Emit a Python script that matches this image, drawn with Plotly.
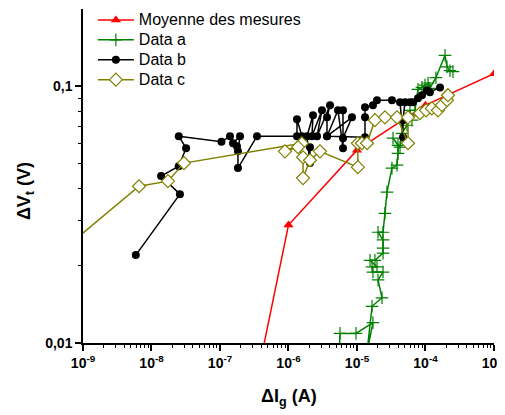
import plotly.graph_objects as go

# ---- data ----
moy_x = [1e-7, 1e-6, 1e-5, 1e-4, 1e-3]
moy_y = [0.00145, 0.0288, 0.0564, 0.0844, 0.112]

a_x = [5.5e-6, 5.65e-6, 9.67e-6, 1.71e-5, 1.4e-5, 1.66e-5, 2.32e-5, 2.03e-5, 2.4e-5, 1.71e-5,
       1.66e-5, 1.96e-5, 1.55e-5, 1.83e-5, 2.4e-5, 2.4e-5, 2.4e-5, 2.03e-5, 2.4e-5, 2.56e-5,
       2.74e-5, 3.24e-5, 3.84e-5, 3.97e-5, 3.97e-5, 3.36e-5, 4.25e-5, 4.54e-5, 5.37e-5, 5.94e-5,
       6.35e-5, 7.03e-5, 7.78e-5, 8.89e-5, 9.84e-5, 1.09e-4, 1.16e-4, 1.42e-4, 1.93e-4, 2.06e-4,
       2.28e-4, 2.52e-4]
a_y = [0.009, 0.0109, 0.0109, 0.012, 0.0092, 0.0139, 0.015, 0.0176, 0.0189, 0.0189,
       0.0198, 0.0198, 0.021, 0.021, 0.0224, 0.0234, 0.0252, 0.027, 0.027, 0.032,
       0.0387, 0.048, 0.0493, 0.0548, 0.0589, 0.0628, 0.0579, 0.0656, 0.0705, 0.0806,
       0.0738, 0.0806, 0.0973, 0.099, 0.101, 0.103, 0.0982, 0.108, 0.132, 0.119,
       0.115, 0.114]

b_x = [5.9e-9, 2.6e-8, 1.38e-8, 2.5e-8, 3.2e-8, 2.5e-8, 1.05e-7, 1.4e-7, 1.77e-7, 1.55e-7,
       1.96e-7, 1.83e-7, 1.83e-7, 3.47e-7, 1.33e-6, 1.33e-6, 1.57e-6, 2.06e-6, 2.06e-6, 1.86e-6,
       2.28e-6, 2.2e-6, 3.08e-6, 2.61e-6, 4.04e-6, 3.65e-6, 3.65e-6, 5.28e-6, 6.25e-6, 6.25e-6,
       6.25e-6, 8.45e-6, 3.65e-6, 1.31e-5, 1.31e-5, 1.31e-5, 1.71e-5, 1.96e-5, 3.24e-5, 4.25e-5,
       4.7e-5, 4.7e-5, 5.02e-5, 5.94e-5, 6.57e-5, 7.78e-5, 8.89e-5, 1.05e-4, 1.16e-4, 1.63e-4]
b_y = [0.022, 0.038, 0.0447, 0.0488, 0.0574, 0.0639, 0.0608, 0.0639, 0.0584, 0.060,
       0.0639, 0.0558, 0.048, 0.0639, 0.0639, 0.0744, 0.0639, 0.0579, 0.0502, 0.0639,
       0.0771, 0.0639, 0.0806, 0.0639, 0.0844, 0.0757, 0.0639, 0.0806, 0.0574, 0.0806,
       0.0628, 0.0757, 0.0639, 0.0633, 0.0757, 0.0828, 0.0844, 0.0882, 0.0882, 0.0867,
       0.0633, 0.0738, 0.0867, 0.0867, 0.0867, 0.0898, 0.0923, 0.0965, 0.0948, 0.099]

c_x = [3e-10, 6.57e-9, 1.74e-8, 2.98e-8, 1.57e-6, 8.89e-7, 1.38e-6, 1.63e-6, 1.63e-6, 2.06e-6,
       2.88e-6, 1.03e-5, 1.03e-5, 1.18e-5, 1.4e-5, 1.83e-5, 2.56e-5, 3.84e-5, 5.56e-5, 5.56e-5,
       8.31e-5, 1.02e-4, 1.24e-4, 1.52e-4, 1.74e-4, 2.06e-4, 2.13e-4]
c_y = [0.0205, 0.0408, 0.0427, 0.0502, 0.060, 0.0558, 0.0579, 0.0529, 0.0439, 0.0515,
       0.0558, 0.0484, 0.060, 0.060, 0.060, 0.0738, 0.0757, 0.0757, 0.060, 0.0757,
       0.0785, 0.0806, 0.082, 0.0806, 0.0844, 0.0882, 0.0923]

series_names = ["Moyenne des mesures", "Data a", "Data b", "Data c"]

x_tickvals = [1e-9, 1e-8, 1e-7, 1e-6, 1e-5, 1e-4, 1e-3]
x_ticktext = ["<b>10<sup>-9</sup></b>", "<b>10<sup>-8</sup></b>", "<b>10<sup>-7</sup></b>",
              "<b>10<sup>-6</sup></b>", "<b>10<sup>-5</sup></b>", "<b>10<sup>-4</sup></b>",
              "<b>10<sup>-3</sup></b>"]
y_tickvals = [0.01, 0.1]
y_ticktext = ["<b>0,01</b>", "<b>0,1</b>"]

FONT = "Arial, 'Liberation Sans', sans-serif"


def legend_label(s):
    return "<span style='font-size:16px'>" + s + "</span>"


fig = go.Figure()
fig.add_trace(go.Scatter(x=moy_x, y=moy_y, mode="lines+markers", name=legend_label(series_names[0]),
                         line=dict(color="#FF0000", width=1.5),
                         marker=dict(symbol="triangle-up", size=9, color="#FF0000")))
fig.add_trace(go.Scatter(x=a_x, y=a_y, mode="lines+markers", name=legend_label(series_names[1]),
                         line=dict(color="#008000", width=1.5),
                         marker=dict(symbol="cross-thin-open", size=9,
                                     line=dict(color="#008000", width=1.2))))
fig.add_trace(go.Scatter(x=b_x, y=b_y, mode="lines+markers", name=legend_label(series_names[2]),
                         line=dict(color="#000000", width=1.5),
                         marker=dict(symbol="circle", size=8, color="#000000")))
fig.add_trace(go.Scatter(x=c_x, y=c_y, mode="lines+markers", name=legend_label(series_names[3]),
                         line=dict(color="#808000", width=1.5),
                         marker=dict(symbol="diamond", size=10, color="white",
                                     line=dict(color="#808000", width=1.2))))

minor_x = [m * 10.0 ** e for e in range(-9, -3) for m in range(2, 10)]
minor_y = [m * 10.0 ** e for e in (-2, -1) for m in range(2, 10) if m * 10.0 ** e < 0.2]

# the page body has an 8px margin, so the figure is made 8px smaller and shifted
fig.update_layout(
    width=497, height=407,
    margin=dict(l=75, r=11, t=1, b=72, autoexpand=False),
    paper_bgcolor="white", plot_bgcolor="white",
    font=dict(family=FONT, color="black"),
    showlegend=True,
    legend=dict(x=0.024, y=1.012, xanchor="left", yanchor="top",
                bgcolor="rgba(0,0,0,0)", font=dict(size=13, family=FONT),
                itemwidth=36, tracegroupgap=0),
    xaxis=dict(type="log", range=[-9, -2.9995], showgrid=False, zeroline=False, automargin=False,
               showline=True, linecolor="black", linewidth=1.5,
               ticks="outside", ticklen=6, tickwidth=1.5, tickcolor="black",
               tickmode="array", tickvals=x_tickvals, ticktext=x_ticktext,
               tickfont=dict(size=14, family=FONT), ticklabeloverflow="allow",
               minor=dict(tickmode="array", tickvals=minor_x, ticks="outside",
                          ticklen=3, tickwidth=1.2, tickcolor="black", showgrid=False)),
    yaxis=dict(type="log", range=[-2, -0.699], showgrid=False, zeroline=False, automargin=False,
               showline=True, linecolor="black", linewidth=1.5,
               ticks="outside", ticklen=6, tickwidth=1.5, tickcolor="black",
               tickmode="array", tickvals=y_tickvals, ticktext=y_ticktext,
               tickfont=dict(size=14, family=FONT), ticklabeloverflow="allow",
               minor=dict(tickmode="array", tickvals=minor_y, ticks="outside",
                          ticklen=3, tickwidth=1.2, tickcolor="black", showgrid=False)),
    annotations=[
        dict(text="<b>ΔI<sub>g</sub> (A)</b>", xref="paper", yref="paper",
             x=0.5, y=-0.162, xanchor="center", yanchor="middle", showarrow=False,
             font=dict(size=18, family=FONT)),
        dict(text="<b>ΔV<sub>t</sub> (V)</b>", xref="paper", yref="paper",
             x=-0.141, y=0.455, xanchor="center", yanchor="middle", showarrow=False,
             textangle=-90, font=dict(size=18, family=FONT)),
    ],
)

fig.write_html("out.html")
